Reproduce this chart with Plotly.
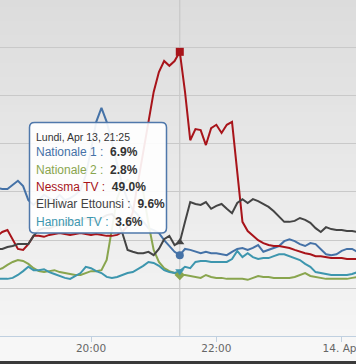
import plotly.graph_objects as go
import pandas as pd

# ---------------- data ----------------
times = pd.date_range("2015-04-13 18:30", "2015-04-14 00:15", freq="5min")

nationale_1 = [20.8, 20.6, 20.6, 21.4, 22.3, 21.2, 18.3, 17.3, 18.3, 19.4,
               18.7, 18.3, 19.4, 18.3, 18.7, 19.4, 20.4, 23.5, 28.7, 34.5,
               37.4, 34.5, 30.3, 25.6, 21.4, 18.3, 16.3, 15.2, 13.8, 12.5,
               12.1, 11.5, 10.0, 8.8, 7.6, 6.9, 8.2, 8.0, 7.6, 7.3,
               7.6, 7.3, 7.3, 7.1, 6.9, 7.6, 8.2, 8.4, 8.0, 8.4,
               9.0, 7.6, 8.0, 8.4, 8.8, 9.8, 10.2, 9.8, 9.2, 8.8,
               9.4, 9.2, 8.2, 7.1, 6.9, 7.1, 7.8, 8.2, 8.2, 7.6]

nationale_2 = [3.8, 4.2, 4.9, 5.5, 5.9, 5.7, 5.1, 4.2, 3.6, 3.4,
               3.6, 3.8, 3.4, 3.2, 3.0, 2.8, 2.8, 3.2, 3.6, 3.6,
               3.8, 5.9, 12.5, 18.7, 21.4, 22.5, 21.6, 22.0, 20.0, 13.4,
               8.0, 5.5, 4.2, 3.6, 3.2, 2.8, 2.8, 2.6, 2.4, 2.2,
               2.8, 2.4, 2.2, 2.2, 2.0, 2.0, 2.0, 2.0, 1.8, 2.2,
               2.6, 2.4, 2.4, 2.2, 2.2, 2.2, 2.2, 2.4, 2.8, 3.2,
               2.6, 2.4, 2.2, 2.0, 2.0, 2.0, 2.0, 2.0, 2.2, 2.4]

nessma_tv = [10.9, 11.7, 12.1, 10.0, 8.2, 8.0, 9.2, 10.9, 10.9, 10.7,
             11.1, 11.3, 11.5, 11.3, 11.1, 11.3, 11.5, 11.3, 11.1, 11.3,
             11.1, 10.9, 10.9, 11.1, 11.7, 12.9, 15.8, 22.0, 28.7, 34.9,
             40.7, 44.8, 47.1, 46.1, 47.1, 49.0, 40.7, 30.7, 33.0, 32.8,
             29.7, 33.2, 33.9, 32.2, 33.9, 34.5, 24.1, 13.8, 11.9, 10.9,
             10.0, 9.4, 9.0, 8.8, 8.8, 8.6, 8.4, 8.0, 7.6, 7.3,
             7.1, 6.7, 6.7, 6.5, 6.3, 6.3, 6.3, 6.1, 6.1, 6.1]

elhiwar_ettounsi = [8.2, 8.2, 8.6, 8.8, 9.2, 9.2, 9.2, 10.9, 12.1, 12.5,
                    12.5, 12.9, 13.1, 13.4, 13.8, 14.2, 14.2, 14.6, 14.2, 13.8,
                    14.6, 15.2, 15.4, 14.2, 11.5, 8.0, 7.6, 7.3, 7.3, 7.6,
                    6.9, 8.2, 10.2, 10.9, 9.0, 9.6, 13.8, 17.9, 17.5, 17.3,
                    17.9, 16.5, 17.1, 17.5, 16.5, 15.6, 17.7, 18.5, 17.7, 18.5,
                    18.1, 17.5, 16.9, 16.0, 15.0, 13.8, 13.8, 14.0, 14.6, 14.2,
                    13.6, 12.5, 11.7, 12.7, 12.3, 12.1, 12.1, 11.9, 11.9, 11.7]

hannibal_tv = [2.0, 2.0, 2.0, 2.2, 2.8, 3.6, 4.5, 3.8, 3.8, 4.0,
               3.4, 3.0, 2.6, 2.2, 2.0, 2.6, 3.2, 4.5, 4.2, 3.6,
               3.2, 2.4, 2.2, 2.4, 2.8, 3.2, 3.4, 4.0, 4.7, 5.5,
               5.3, 4.7, 3.8, 3.4, 3.2, 3.6, 4.5, 4.2, 5.5, 5.7,
               5.7, 5.5, 5.5, 5.5, 5.5, 6.1, 7.8, 6.5, 7.3, 6.5,
               6.1, 6.3, 6.3, 6.7, 7.1, 7.1, 6.7, 6.3, 5.9, 5.1,
               4.5, 3.4, 3.2, 3.0, 2.8, 2.8, 2.8, 2.8, 3.0, 3.4]

series_names = ["Nationale 1", "Nationale 2", "Nessma TV", "ElHiwar Ettounsi", "Hannibal TV"]
series_colors = ["#4572A7", "#89A54E", "#A8141A", "#444444", "#3D96AE"]
series_symbols = ["circle", "diamond", "square", "triangle-up", "triangle-down"]
series_values = [nationale_1, nationale_2, nessma_tv, elhiwar_ettounsi, hannibal_tv]

tick_vals = ["2015-04-13 20:00", "2015-04-13 22:00", "2015-04-14 00:00"]
tick_text = ["20:00", "22:00", "14. Apr"]
x_range = ["2015-04-13 18:32:52", "2015-04-14 00:13:42"]
y_range = [-9.83, 59.73]

hover_time = pd.Timestamp("2015-04-13 21:25")
hover_header = "Lundi, Apr 13, 21:25"

# ---------------- figure ----------------
W, H = 356, 364
PLOT_H = 336.0

fig = go.Figure()

# plot background gradient
n = 48
for i in range(n):
    c = int(round(220 + (245 - 220) * i / (n - 1)))
    fig.add_shape(type="rect", xref="paper", yref="paper", x0=0, x1=1,
                  y0=1 - (i + 1) / n - 0.002, y1=1 - i / n,
                  fillcolor=f"rgb({c},{c},{c})", line_width=0, layer="below")

# crosshair
fig.add_shape(type="line", xref="x", yref="paper", x0=hover_time, x1=hover_time,
              y0=0, y1=1, line=dict(color="#c4c4c4", width=1), layer="below")

# bottom dark strip
fig.add_shape(type="rect", xref="paper", yref="paper", x0=0, x1=1,
              y0=-(H - PLOT_H) / PLOT_H, y1=-(361 - PLOT_H) / PLOT_H,
              fillcolor="#3a3a3a", line_width=0, layer="above")

for name, vals, col in zip(series_names, series_values, series_colors):
    fig.add_trace(go.Scatter(x=times, y=vals, mode="lines", name=name,
                             line=dict(color=col, width=2), hoverinfo="skip"))

hidx = list(times).index(hover_time)
for name, vals, col, sym in zip(series_names, series_values, series_colors, series_symbols):
    fig.add_trace(go.Scatter(x=[times[hidx]], y=[vals[hidx]], mode="markers",
                             marker=dict(symbol=sym, size=8, color=col, line=dict(width=0)),
                             hoverinfo="skip", showlegend=False))

# tooltip box (rounded rect, paper coords)
def px(x):
    return x / W

def py(y):
    return 1 - y / PLOT_H

bx0, bx1, by0, by1, r = 29.5, 166.5, 122.5, 233.0, 5.0
path = (f"M {px(bx0 + r)} {py(by0)} L {px(bx1 - r)} {py(by0)} "
        f"Q {px(bx1)} {py(by0)} {px(bx1)} {py(by0 + r)} "
        f"L {px(bx1)} {py(by1 - r)} Q {px(bx1)} {py(by1)} {px(bx1 - r)} {py(by1)} "
        f"L {px(bx0 + r)} {py(by1)} Q {px(bx0)} {py(by1)} {px(bx0)} {py(by1 - r)} "
        f"L {px(bx0)} {py(by0 + r)} Q {px(bx0)} {py(by0)} {px(bx0 + r)} {py(by0)} Z")
fig.add_shape(type="path", xref="paper", yref="paper", path=path,
              fillcolor="rgba(255,255,255,0.91)", line=dict(color="#4F78AB", width=1.5),
              layer="above")

fig.add_annotation(xref="paper", yref="paper", x=px(34), y=py(137), xanchor="left",
                   yanchor="middle", showarrow=False, text=hover_header,
                   font=dict(family="Liberation Sans", size=10.5, color="#333333"))
line_y = [152, 169.5, 187, 204.5, 222]
for yy, name, vals, col in zip(line_y, series_names, series_values, series_colors):
    txt = (f'<span style="color:{col}">{name} : </span> '
           f'<b>{vals[hidx]:.1f}%</b>')
    fig.add_annotation(xref="paper", yref="paper", x=px(34), y=py(yy), xanchor="left",
                       yanchor="middle", showarrow=False, text=txt,
                       font=dict(family="Liberation Sans", size=12, color="#333333"))

fig.update_layout(
    width=W, height=H,
    margin=dict(l=0, r=0, t=0, b=H - PLOT_H, autoexpand=False),
    paper_bgcolor="#f7f7f7",
    plot_bgcolor="rgba(0,0,0,0)",
    showlegend=False,
    xaxis=dict(type="date", range=x_range, tickvals=tick_vals, ticktext=tick_text,
               showgrid=False, zeroline=False, showline=True, linecolor="#C0D0E0",
               linewidth=1, ticks="outside", ticklen=5, tickcolor="#C0D0E0",
               tickfont=dict(family="DejaVu Sans", size=10.5, color="#666666"),
               ticklabeloverflow="allow", ticklabelstandoff=-3,
               automargin=False, fixedrange=True),
    yaxis=dict(range=y_range, tick0=0, dtick=10, showticklabels=False,
               showgrid=True, gridcolor="#c9c9c9", gridwidth=1, zeroline=False,
               automargin=False, fixedrange=True),
)

fig.write_html("out.html", config={"displayModeBar": False},
               post_script="document.body.style.margin='0';document.body.style.overflow='hidden';")
